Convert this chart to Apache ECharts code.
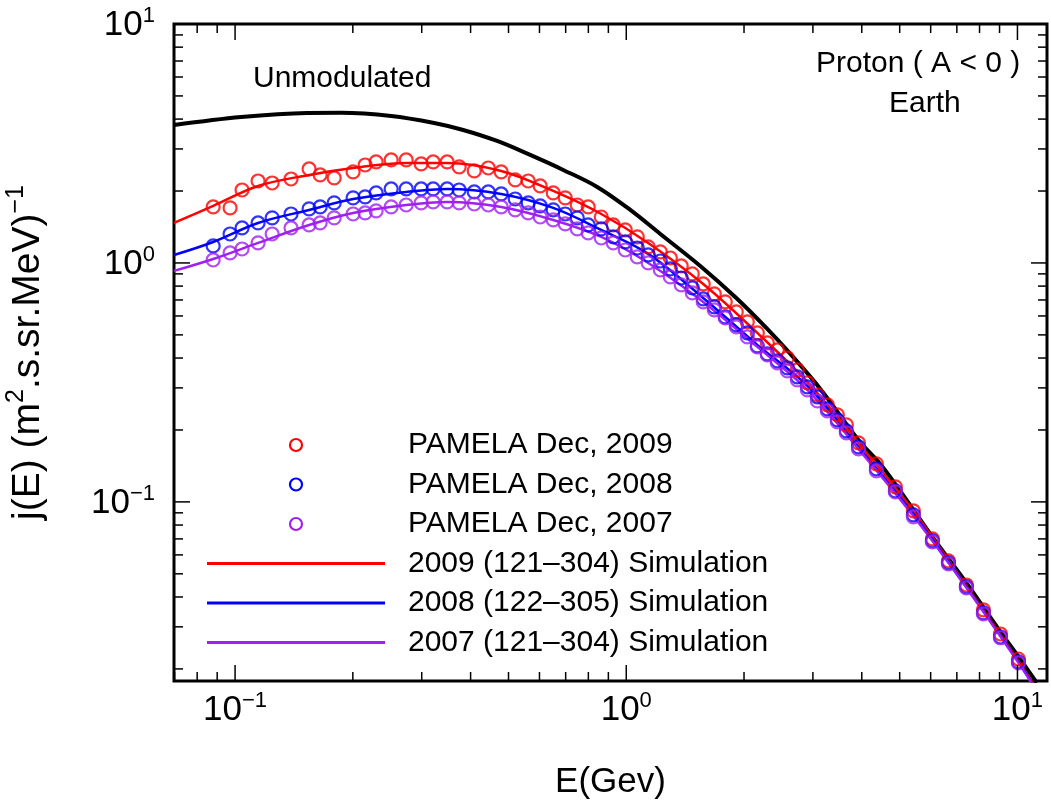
<!DOCTYPE html>
<html>
<head>
<meta charset="utf-8">
<script src="https://cdn.jsdelivr.net/npm/echarts@6/dist/echarts.min.js"></script>
<style>
html,body{margin:0;padding:0;background:#fff;}
#chart{width:1051px;height:809px;}
</style>
</head>
<body>
<div id="chart"></div>
<script>
// ---- data ----
const pamelaE = [0.0879, 0.0971, 0.1042, 0.1145, 0.1244, 0.1390, 0.1546, 0.1650, 0.1792, 0.2003,
  0.2150, 0.2294, 0.2506, 0.2738, 0.2990, 0.3209, 0.3484, 0.3740, 0.4087, 0.4438,
  0.4790, 0.5201, 0.5615, 0.6026, 0.6506, 0.6982, 0.7494, 0.7993, 0.8631, 0.9264,
  0.9941, 1.067, 1.138, 1.222, 1.296, 1.382, 1.475, 1.573, 1.679, 1.791,
  1.911, 2.039, 2.163, 2.294, 2.433, 2.581, 2.737, 2.904, 3.079, 3.266,
  3.464, 3.653, 3.922, 4.359, 4.875, 5.420, 6.062, 6.661, 7.404, 8.185,
  9.049, 10.06];
const pamela2009 = [1.715, 1.699, 2.020, 2.203, 2.161, 2.246, 2.474, 2.335, 2.268, 2.403,
  2.570, 2.646, 2.698, 2.698, 2.596, 2.646, 2.646, 2.522, 2.427, 2.497,
  2.403, 2.225, 2.203, 2.100, 1.963, 1.871, 1.748, 1.715, 1.557, 1.442,
  1.374, 1.285, 1.167, 1.112, 1.049, 0.9715, 0.8995, 0.8167, 0.7418, 0.6870,
  0.6237, 0.5665, 0.5095, 0.4626, 0.4325, 0.4005, 0.3566, 0.3147, 0.2804, 0.2546,
  0.2312, 0.2100, 0.1765, 0.1442, 0.1155, 0.0917, 0.0700, 0.0566, 0.0449, 0.0353,
  0.0280, 0.0220];
const pamela2008 = [1.178, 1.322, 1.401, 1.470, 1.543, 1.603, 1.683, 1.715, 1.783, 1.871,
  1.889, 1.963, 2.040, 2.040, 2.040, 2.040, 2.040, 2.020, 1.982, 1.982,
  1.944, 1.852, 1.783, 1.732, 1.667, 1.603, 1.543, 1.442, 1.388, 1.285,
  1.224, 1.155, 1.080, 1.019, 0.944, 0.865, 0.7860, 0.7067, 0.6545, 0.5942,
  0.5502, 0.5095, 0.4495, 0.4161, 0.3890, 0.3637, 0.3334, 0.3029, 0.2750, 0.2449,
  0.2203, 0.1982, 0.1699, 0.1374, 0.1112, 0.0882, 0.0687, 0.0556, 0.0441, 0.0343,
  0.0272, 0.0214];
const pamela2007 = [1.029, 1.101, 1.144, 1.213, 1.322, 1.401, 1.442, 1.470, 1.543, 1.603,
  1.619, 1.651, 1.715, 1.748, 1.783, 1.800, 1.800, 1.783, 1.765, 1.748,
  1.715, 1.667, 1.619, 1.557, 1.513, 1.456, 1.388, 1.335, 1.272, 1.213,
  1.133, 1.060, 1.000, 0.9348, 0.8740, 0.8092, 0.7490, 0.6870, 0.6357, 0.5886,
  0.5400, 0.4902, 0.4453, 0.4121, 0.3816, 0.3533, 0.3239, 0.2942, 0.2646, 0.2403,
  0.2162, 0.1944, 0.1666, 0.1348, 0.1101, 0.0866, 0.0680, 0.0550, 0.0437, 0.0340,
  0.0270, 0.0212];

const simE = [0.0698, 0.0879, 0.1145, 0.1546, 0.2003, 0.2738, 0.3484, 0.4790, 0.6506, 0.8631,
  1.138, 1.573, 2.163, 2.904, 3.922, 5.420, 7.404, 10.06, 11.05];
const sim2009 = [1.470, 1.732, 2.100, 2.335, 2.497, 2.621, 2.621, 2.427, 2.001, 1.603,
  1.213, 0.8167, 0.5095, 0.3178, 0.1765, 0.0917, 0.0445, 0.0216, 0.0170];
const sim2008 = [1.080, 1.224, 1.470, 1.667, 1.852, 1.982, 2.040, 1.944, 1.699, 1.374,
  1.091, 0.7137, 0.4539, 0.3057, 0.1699, 0.0891, 0.0441, 0.0214, 0.0168];
const sim2007 = [0.926, 1.039, 1.213, 1.442, 1.619, 1.748, 1.800, 1.715, 1.513, 1.285,
  1.000, 0.6870, 0.4453, 0.2942, 0.1666, 0.0873, 0.0437, 0.0212, 0.0167];

const unmodE = [0.0698, 0.1036, 0.1528, 0.1867, 0.2506, 0.3228, 0.3829, 0.4677, 0.5681, 0.6901,
  0.8428, 1.024, 1.222, 1.546, 1.911, 2.281, 2.627, 3.134, 3.922, 4.543,
  6.062, 7.404, 9.049, 10.06, 11.2];
const unmodJ = [3.779, 4.083, 4.243, 4.250, 4.122, 3.853, 3.602, 3.239, 2.831, 2.450,
  2.080, 1.667, 1.322, 0.9715, 0.7137, 0.5346, 0.4161, 0.2971, 0.1817, 0.1388,
  0.0714, 0.0458, 0.0286, 0.0225, 0.0175];

const seriesNames = ['PAMELA Dec, 2009', 'PAMELA Dec, 2008', 'PAMELA Dec, 2007',
  '2009 (121\u2013304) Simulation', '2008 (122\u2013305) Simulation', '2007 (121\u2013304) Simulation'];
const xDecades = [-2, -1, 0, 1];   // decades used for tick marks
const yDecades = [-2, -1, 0, 1];

// ---- helpers ----
const X_MIN = 0.0698, X_MAX = 11.9, Y_MIN = 0.0178, Y_MAX = 10;
const FONT = '"Liberation Sans", Arial, sans-serif';
const RED = '#ff0000', BLUE = '#0000ff', PURPLE = '#a020f0';
const LEG_W = 178, LEG_H = 12;
const LINE_ICON = 'path://M0,0L0.01,0L0,0.01Z M0,4.5L' + LEG_W + ',4.5L' + LEG_W + ',7.5L0,7.5Z M' +
  LEG_W + ',' + LEG_H + 'L' + (LEG_W - 0.01) + ',' + LEG_H + 'L' + LEG_W + ',' + (LEG_H - 0.01) + 'Z';

function zip(a, b) { return a.map((v, i) => [v, b[i]]); }
function supLabel(v) {
  const l = Math.log10(v);
  const e = Math.round(l);
  if (Math.abs(l - e) > 1e-6) return '';
  const es = e < 0 ? '\u2212' + (-e) : String(e);
  return '{b|10}{s|' + es + '}';
}
const labelRich = {
  b: { fontSize: 35, fontFamily: FONT, color: '#000', lineHeight: 38, verticalAlign: 'bottom' },
  s: { fontSize: 22, fontFamily: FONT, color: '#000', lineHeight: 22, verticalAlign: 'top' }
};

// tick marks built from decades
const tickData = [];
xDecades.forEach(d => {
  for (let m = 1; m <= 9; m++) {
    const v = m * Math.pow(10, d);
    if (v >= X_MIN * 0.999 && v <= X_MAX) tickData.push([v, Y_MIN, 0, m === 1 ? 1 : 0]);
  }
});
yDecades.forEach(d => {
  for (let m = 1; m <= 9; m++) {
    const v = m * Math.pow(10, d);
    if (v >= Y_MIN && v <= Y_MAX * 1.0001) tickData.push([X_MIN, v, 1, m === 1 ? 1 : 0]);
  }
});

function renderTick(params, api) {
  const cs = params.coordSys;
  const kind = api.value(2), major = api.value(3);
  const len = major ? 16 : 9;
  const st = { stroke: '#000', lineWidth: 1.5 };
  if (kind === 0) {
    const px = api.coord([api.value(0), Y_MIN])[0];
    const yb = cs.y + cs.height, yt = cs.y;
    return { type: 'group', children: [
      { type: 'line', shape: { x1: px, y1: yb, x2: px, y2: yb - len }, style: st },
      { type: 'line', shape: { x1: px, y1: yt, x2: px, y2: yt + len }, style: st }
    ]};
  } else {
    const py = api.coord([X_MIN, api.value(1)])[1];
    const xl = cs.x, xr = cs.x + cs.width;
    return { type: 'group', children: [
      { type: 'line', shape: { x1: xl, y1: py, x2: xl + len, y2: py }, style: st },
      { type: 'line', shape: { x1: xr, y1: py, x2: xr - len, y2: py }, style: st }
    ]};
  }
}

const chart = echarts.init(document.getElementById('chart'), null, { renderer: 'canvas' });

function scatter(name, ys, color) {
  return {
    name, type: 'scatter', data: zip(pamelaE, ys),
    symbol: 'circle', symbolSize: 13,
    itemStyle: { color: 'rgba(0,0,0,0)', borderColor: color, borderWidth: 2.2 },
    emphasis: { disabled: true }, silent: true, z: 3
  };
}
function simLine(name, ys, color) {
  return {
    name, type: 'line', data: zip(simE, ys), smooth: 0.35, symbol: 'none',
    lineStyle: { color, width: 2.5 }, itemStyle: { color },
    emphasis: { disabled: true }, silent: true, z: 2, clip: true
  };
}
const colors = [RED, BLUE, PURPLE];
const legendData = seriesNames.map((n, i) => i < 3
  ? { name: n, icon: 'circle', itemStyle: { color: 'rgba(0,0,0,0)', borderColor: colors[i], borderWidth: 2.2, opacity: 1 } }
  : { name: n, icon: LINE_ICON, itemStyle: { color: colors[i - 3], borderWidth: 0, opacity: 1 } });

const option = {
  animation: false,
  backgroundColor: '#fff',
  grid: { left: 174, right: 4, top: 24, bottom: 128, containLabel: false, outerBoundsMode: 'none',
    show: true, borderColor: '#000', borderWidth: 3, backgroundColor: 'rgba(0,0,0,0)' },
  xAxis: {
    type: 'log', logBase: 10, min: X_MIN, max: X_MAX,
    axisLine: { show: false }, axisTick: { show: false }, splitLine: { show: false }, minorTick: { show: false },
    axisLabel: { formatter: supLabel, margin: 9, rich: labelRich, showMinLabel: false, showMaxLabel: false },
    name: 'E(Gev)', nameLocation: 'middle', nameGap: 84,
    nameTextStyle: { fontSize: 35, fontFamily: FONT, color: '#000' }
  },
  yAxis: {
    type: 'log', logBase: 10, min: Y_MIN, max: Y_MAX,
    axisLine: { show: false }, axisTick: { show: false }, splitLine: { show: false }, minorTick: { show: false },
    axisLabel: { formatter: supLabel, margin: 19, rich: labelRich, showMinLabel: false, showMaxLabel: true },
    name: '{a|j(E) (m}{s|2}{a|.s.sr.MeV)}{s|\u22121}', nameLocation: 'middle', nameGap: 126,
    nameTextStyle: { rich: {
      a: { fontSize: 39, fontFamily: FONT, color: '#000', lineHeight: 44, verticalAlign: 'bottom' },
      s: { fontSize: 25, fontFamily: FONT, color: '#000', lineHeight: 25, verticalAlign: 'top' }
    } }
  },
  legend: {
    data: legendData, orient: 'vertical', left: 202, top: 425,
    itemWidth: LEG_W, itemHeight: LEG_H, itemGap: 9.5, selectedMode: false,
    textStyle: { fontSize: 30, fontFamily: FONT, color: '#000', lineHeight: 30, padding: [0, 0, 0, 18] }
  },
  graphic: [
    { type: 'text', left: 253, top: 64, style: { text: 'Unmodulated', font: '30px ' + FONT, fill: '#000' } },
    { type: 'text', left: 816, top: 49, style: { text: 'Proton ( A < 0 )', font: '30px ' + FONT, fill: '#000' } },
    { type: 'text', left: 889, top: 89, style: { text: 'Earth', font: '30px ' + FONT, fill: '#000' } }
  ],
  series: [
    { name: 'Unmodulated', type: 'line', data: zip(unmodE, unmodJ), smooth: 0.35, symbol: 'none',
      lineStyle: { color: '#000', width: 4 }, emphasis: { disabled: true }, silent: true, z: 1, clip: true },
    simLine(seriesNames[3], sim2009, RED),
    simLine(seriesNames[4], sim2008, BLUE),
    simLine(seriesNames[5], sim2007, PURPLE),
    scatter(seriesNames[0], pamela2009, RED),
    scatter(seriesNames[1], pamela2008, BLUE),
    scatter(seriesNames[2], pamela2007, PURPLE),
    { name: 'ticks', type: 'custom', data: tickData, renderItem: renderTick,
      encode: { x: 0, y: 1 }, silent: true, z: 10, clip: false }
  ]
};
chart.setOption(option);
</script>
</body>
</html>
